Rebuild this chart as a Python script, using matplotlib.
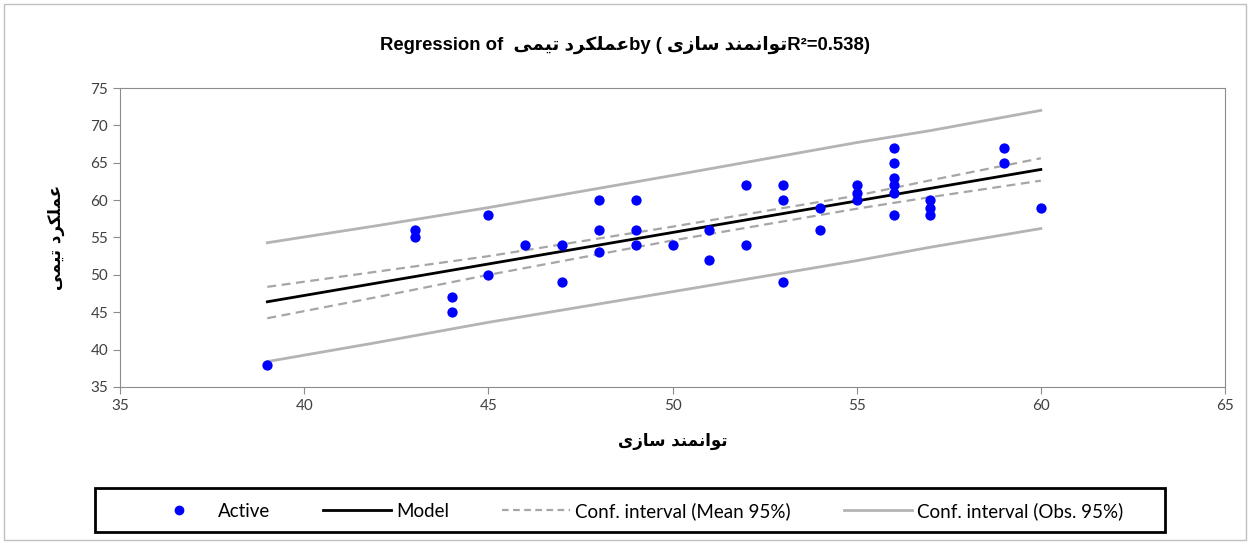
import numpy as np
import matplotlib
matplotlib.use("Agg")
import matplotlib.pyplot as plt
from matplotlib.patches import Rectangle
from matplotlib.lines import Line2D

plt.rcParams['font.family'] = ['Lato', 'DejaVu Sans']

# data
empower = [39, 43, 43, 44, 44, 45, 45, 46, 47, 47, 48, 48, 48, 49, 49, 49, 50,
           51, 51, 52, 52, 53, 53, 53, 54, 54, 55, 55, 55, 56, 56, 56, 56, 56, 56,
           57, 57, 57, 59, 59, 60]
team_perf = [38, 56, 55, 47, 45, 58, 50, 54, 54, 49, 60, 56, 53, 60, 56, 54, 54,
             56, 52, 62, 54, 62, 60, 49, 59, 56, 62, 61, 60, 67, 65, 63, 62, 61, 58,
             60, 59, 58, 67, 65, 59]
r2_label = "0.538"

# model line and confidence bands
model_x = [39, 60]
model_y = [46.4, 64.1]
band_x = [39, 42, 45, 50, 55, 57, 60]
mean_upper = [48.4, 50.45, 52.5, 56.45, 60.6, 62.65, 65.6]
mean_lower = [44.2, 47.05, 50.0, 54.6, 58.85, 60.4, 62.6]
obs_upper = [54.3, 56.6, 59.0, 63.3, 67.7, 69.3, 72.0]
obs_lower = [38.4, 40.97, 43.65, 47.75, 51.9, 53.7, 56.2]

# arabic text, shaped by hand and in visual order
def vis(glyphs):
    return "".join(chr(g) if isinstance(g, int) else g for g in reversed(glyphs))

xlabel_txt = vis([0xFE97, 0xFEEE, 0xFE8D, 0xFEE7, 0xFEE4, 0xFEE8, 0xFEAA, ' ',
                  0xFEB3, 0xFE8E, 0xFEAF, 0xFEEF])
ylabel_txt = vis([0xFECB, 0xFEE4, 0xFEE0, 0xFB91, 0xFEAE, 0xFEA9, ' ',
                  0xFE97, 0xFEF4, 0xFEE4, 0xFEF0])

fig = plt.figure(figsize=(12.51, 5.43), dpi=100)
ax = fig.add_axes([120 / 1251, 1 - 387 / 543, 1105 / 1251, 299 / 543])

grey = '#b4b4b4'
dgrey = '#a6a6a6'
ax.plot(band_x, obs_upper, color=grey, lw=2, zorder=2)
ax.plot(band_x, obs_lower, color=grey, lw=2, zorder=2)
ax.plot(band_x, mean_upper, color=dgrey, lw=1.6, ls=(0, (4, 2.5)), zorder=2)
ax.plot(band_x, mean_lower, color=dgrey, lw=1.6, ls=(0, (4, 2.5)), zorder=2)
ax.plot(model_x, model_y, color='black', lw=2, zorder=3)
ax.scatter(empower, team_perf, s=55, color='#0000ff', zorder=4, linewidths=0)

ax.set_xlim(35, 65)
ax.set_ylim(35, 75)
ax.set_xticks(np.arange(35, 66, 5))
ax.set_yticks(np.arange(35, 76, 5))
for sp in ax.spines.values():
    sp.set_color('#8c8c8c')
ax.tick_params(colors='#8c8c8c', labelcolor='#404040', labelsize=11, length=5, direction='out')
ax.set_xlabel(xlabel_txt, fontsize=12, fontweight='bold', family='DejaVu Sans', labelpad=14)
ax.set_ylabel(ylabel_txt, fontsize=12, fontweight='bold', family='DejaVu Sans', labelpad=18)

title = "Regression of  " + ylabel_txt + "by ( " + xlabel_txt + "R\u00b2=" + r2_label + ")"
fig.text(0.5, 1 - 45 / 543, title, ha='center', va='center', fontsize=13.3,
         fontweight='bold', family=['Liberation Sans', 'DejaVu Sans'])

handles = [
    Line2D([], [], ls='none', marker='o', color='#0000ff', markersize=6),
    Line2D([], [], color='black', lw=2),
    Line2D([], [], color=dgrey, lw=1.6, ls=(0, (3, 2))),
    Line2D([], [], color=grey, lw=2),
]
labels = ['Active', 'Model', 'Conf. interval (Mean 95%)', 'Conf. interval (Obs. 95%)']
fig.legend(handles, labels, loc='center', bbox_to_anchor=(634 / 1251, 1 - 511 / 543),
           ncol=4, frameon=False, fontsize=13.5, handlelength=3.6, handletextpad=0.27,
           columnspacing=2.85)
fig.add_artist(Rectangle((95 / 1251, 1 - 532 / 543), 1070 / 1251, 44 / 543,
                         transform=fig.transFigure, fill=False, ec='black', lw=2))
fig.add_artist(Rectangle((4 / 1251, 3 / 543), 1242 / 1251, 536 / 543,
                         transform=fig.transFigure, fill=False, ec='#bfbfbf', lw=1))

fig.savefig('out.png', dpi=100)
